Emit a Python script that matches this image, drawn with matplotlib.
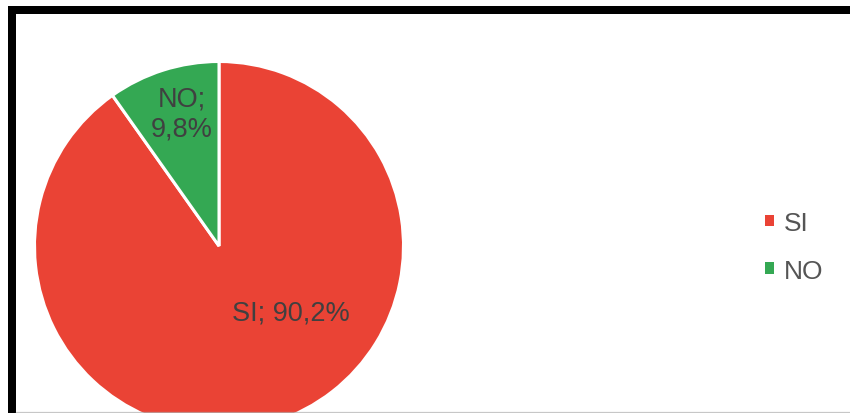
import matplotlib
matplotlib.use("Agg")
import matplotlib.pyplot as plt
from matplotlib.patches import Patch, Rectangle
import numpy as np

categories = ["SI", "NO"]
values = [90.2, 9.8]
label_texts = ["SI; 90,2%", "NO;\n9,8%"]
colors = ["#EA4335", "#34A853"]

plt.rcParams['font.family'] = ['Liberation Sans', 'DejaVu Sans']

W, H = 850, 414
fig = plt.figure(figsize=(W / 100, H / 100), dpi=100)
ax = fig.add_axes([0, 0, 1, 1])

cx, cy, r = 219, H - 247, 184.5
wedges, _ = ax.pie(values, center=(cx, cy), radius=r, startangle=90,
                   counterclock=False, colors=colors,
                   wedgeprops=dict(edgecolor="white", linewidth=2.2))

# labels placed inside slices
label_pos = [(291, H - 313), (182, H - 114)]
for txt, (x, y) in zip(label_texts, label_pos):
    ax.text(x, y, txt, ha="center", va="center", fontsize=19.5,
            color="#404040", linespacing=1.2)

ax.set_xlim(0, W)
ax.set_ylim(0, H)
ax.set_aspect("equal")
ax.axis("off")

# outer frame (cropped: only left and top visible)
ax.add_patch(Rectangle((12, -40), 1000, H - 11 + 40, fill=False,
                       edgecolor="black", linewidth=8 * 0.72, zorder=5,
                       clip_on=False))
ax.plot([16, W], [0.6, 0.6], color="#b0b0b0", linewidth=0.9, alpha=0.7,
        zorder=6)

handles = [Patch(facecolor=c, edgecolor="none") for c in colors]
leg = ax.legend(handles, categories, loc="upper left",
                bbox_to_anchor=(765 / W, 1 - 212 / H), frameon=False,
                fontsize=19, handlelength=0.34, handleheight=0.3,
                handletextpad=0.36, labelspacing=0.9, borderpad=0,
                borderaxespad=0)
for t in leg.get_texts():
    t.set_color("#555555")

fig.savefig("out.png", dpi=100)
